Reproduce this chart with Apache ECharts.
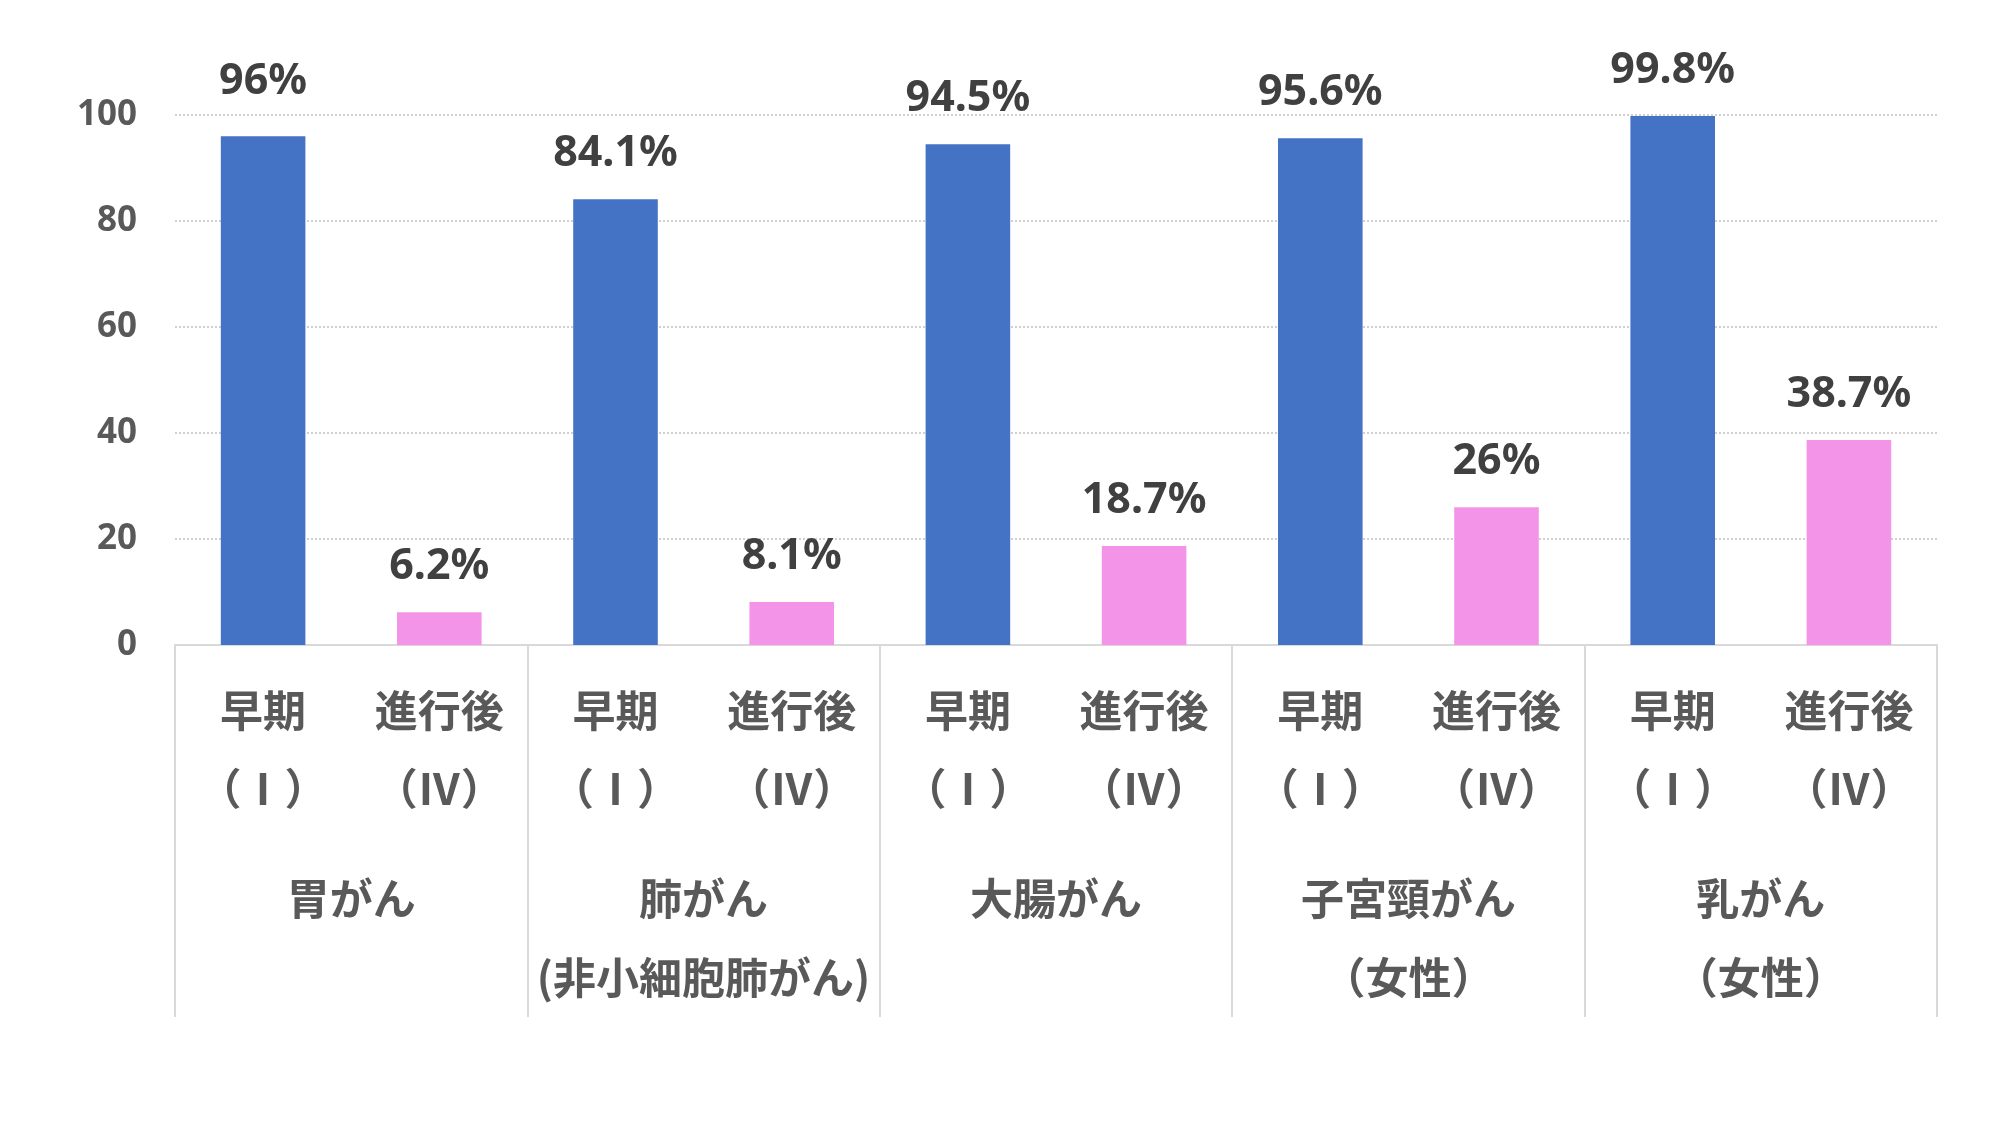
<!DOCTYPE html>
<html>
<head>
<meta charset="utf-8">
<script src="https://cdn.jsdelivr.net/npm/echarts@6/dist/echarts.min.js"></script>
<style>
html,body{margin:0;padding:0;background:#fff;}
#chart{width:1998px;height:1137px;}
</style>
</head>
<body>
<div id="chart"></div>
<script>
// ---- data ----
const groups = ['胃がん', '肺がん\n(非小細胞肺がん)', '大腸がん', '子宮頸がん\n（女性）', '乳がん\n（女性）'];
const stages = ['早期\n（Ⅰ）', '進行後\n（Ⅳ）'];
const earlyValues = [96, 84.1, 94.5, 95.6, 99.8];   // 早期（Ⅰ）
const lateValues = [6.2, 8.1, 18.7, 26, 38.7];      // 進行後（Ⅳ）
const yTicks = [0, 20, 40, 60, 80, 100];

// ---- build ----
const stageCategories = [];
const earlyData = [];
const lateData = [];
groups.forEach((g, i) => {
  stageCategories.push(stages[0], stages[1]);
  earlyData.push(earlyValues[i], '-');
  lateData.push('-', lateValues[i]);
});
// the first label sits a little higher in the original
earlyData[0] = { value: earlyValues[0], label: { offset: [0, -9] } };

const numFont = '"Noto Sans", "Noto Sans CJK JP", sans-serif';
const jpFont = '"Noto Sans CJK JP", "Noto Sans", sans-serif';

const labelStyle = {
  show: true,
  position: 'top',
  distance: 24,
  formatter: '{c}%',
  fontFamily: numFont,
  fontWeight: 'bold',
  fontSize: 43,
  color: '#404040'
};

const chart = echarts.init(document.getElementById('chart'), null, { renderer: 'canvas' });
chart.setOption({
  animation: false,
  backgroundColor: '#ffffff',
  grid: { left: 175, right: 61, top: 115, bottom: 492, containLabel: false },
  xAxis: [
    {
      type: 'category',
      data: stageCategories,
      position: 'bottom',
      axisLine: { show: true, lineStyle: { color: '#d9d9d9', width: 2 } },
      axisTick: { show: false },
      axisLabel: {
        interval: 0,
        margin: 27,
        fontFamily: jpFont,
        fontWeight: 'bold',
        fontSize: 43,
        lineHeight: 78,
        color: '#595959'
      }
    },
    {
      type: 'category',
      data: groups,
      position: 'bottom',
      axisLine: { show: false },
      axisTick: { show: true, length: 372, lineStyle: { color: '#d9d9d9', width: 2 } },
      axisLabel: {
        interval: 0,
        margin: 214,
        fontFamily: jpFont,
        fontWeight: 'bold',
        fontSize: 43,
        lineHeight: 79,
        color: '#595959'
      }
    }
  ],
  yAxis: {
    type: 'value',
    min: yTicks[0],
    max: yTicks[yTicks.length - 1],
    interval: yTicks[1] - yTicks[0],
    axisLine: { show: false },
    axisTick: { show: false },
    axisLabel: {
      margin: 38,
      fontFamily: numFont,
      fontWeight: 'bold',
      fontSize: 35,
      color: '#595959'
    },
    splitLine: { show: true, lineStyle: { color: '#d0d0d0', width: 2, type: 'dotted' } }
  },
  series: [
    {
      name: '早期（Ⅰ）',
      type: 'bar',
      xAxisIndex: 0,
      data: earlyData,
      barWidth: '48%',
      barGap: '-100%',
      itemStyle: { color: '#4472C4' },
      label: labelStyle
    },
    {
      name: '進行後（Ⅳ）',
      type: 'bar',
      xAxisIndex: 0,
      data: lateData,
      barWidth: '48%',
      barGap: '-100%',
      itemStyle: { color: '#F494E9' },
      label: labelStyle
    }
  ]
});
</script>
</body>
</html>
